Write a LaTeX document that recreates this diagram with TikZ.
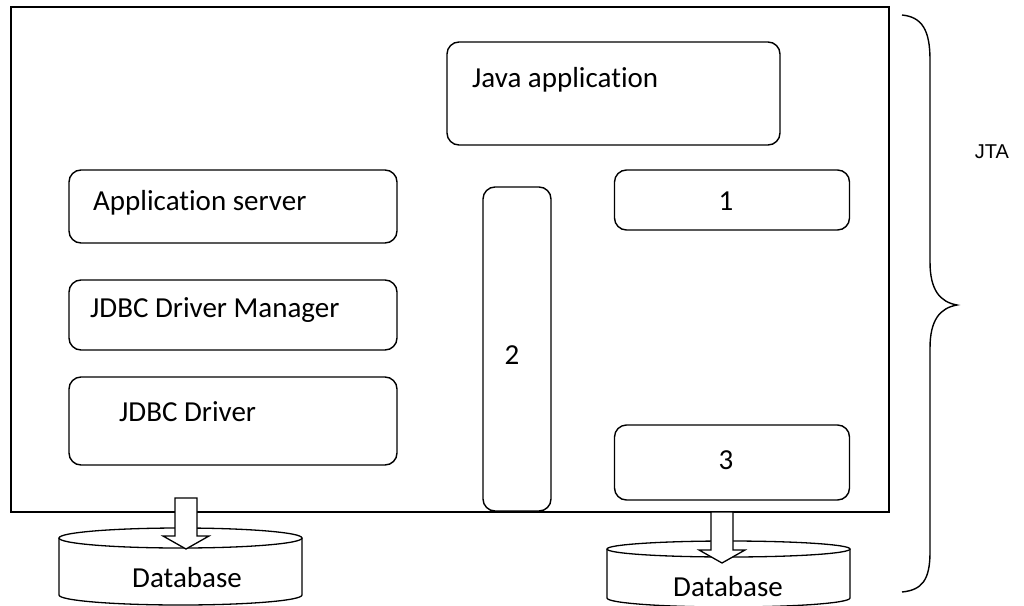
\documentclass[tikz,border=0pt]{standalone}
\usepackage{fontspec}
\setmainfont{Carlito}[Ligatures=NoCommon]
\newfontfamily\arialfont{Liberation Sans}
\begin{document}
\begin{tikzpicture}[x=1pt,y=-1pt,
  rbox/.style={draw,line width=1.4pt,rounded corners=12pt},
  lbl/.style={font=\fontsize{29}{34}\selectfont,inner sep=0pt},
  blockarrow/.style={draw,fill=white,line width=1.3pt,line join=miter}]
\useasboundingbox (0,0) rectangle (1024,605);
% main frame
\draw[line width=1.8pt] (11,7) rectangle (889,512);
\node[rbox,minimum width=333pt,minimum height=103pt] (java) at (613.5,93.5) {};
\node[lbl,anchor=west] (javat) at (472,80) {Java application};
\node[rbox,minimum width=328pt,minimum height=73pt] (appsrv) at (233,206.5) {};
\node[lbl,anchor=west] at (93,203) {Application server};
\node[rbox,minimum width=328pt,minimum height=70pt] (dm) at (233,315) {};
\node[lbl,anchor=west] at (90,310) {JDBC Driver Manager};
\node[rbox,minimum width=328pt,minimum height=88pt] (drv) at (233,421) {};
\node[lbl,anchor=west] at (119,412) {JDBC Driver};
\node[rbox,minimum width=68pt,minimum height=324pt] (two) at (517,349) {};
\node[lbl] at (512,355) {2};
\node[rbox,minimum width=235pt,minimum height=60pt] (one) at (732,200) {};
\node[lbl] at (726,201) {1};
\node[rbox,minimum width=235pt,minimum height=75pt] (three) at (732,462.5) {};
\node[lbl] at (726,460) {3};
% databases
\draw[line width=1.3pt] (59,538) -- (59,595) arc[start angle=180,end angle=360,x radius=121.5pt,y radius=10pt] -- (302,538);
\draw[line width=1.3pt] (180.5,538) ellipse[x radius=121.5pt,y radius=10pt];
\node[lbl] (db1) at (187,578) {Database};
\draw[line width=1.3pt] (607,549) -- (607,598) arc[start angle=180,end angle=360,x radius=121.5pt,y radius=9pt] -- (850,549);
\draw[line width=1.3pt] (728.5,549) ellipse[x radius=121.5pt,y radius=8pt];
\node[lbl] (db2) at (728,587) {Database};
% block arrows
\draw[blockarrow] (175,498) -- (197,498) -- (197,536) -- (209,536) -- (186,549) -- (163,536) -- (175,536) -- cycle;
\draw[blockarrow] (711,512) -- (733,512) -- (733,550) -- (745,550) -- (722,563) -- (699,550) -- (711,550) -- cycle;
% brace
\draw[line width=1.4pt] (902,15) .. controls (922,17) and (930,30) .. (930,60)
  -- (930,262) .. controls (930,290) and (940,302) .. (957,305)
  .. controls (940,308) and (930,320) .. (930,348)
  -- (930,552) .. controls (930,580) and (922,590) .. (902,592);
\node[font=\arialfont\fontsize{20}{24}\selectfont,inner sep=0pt] (jta) at (992,152) {JTA};
\end{tikzpicture}
\end{document}
